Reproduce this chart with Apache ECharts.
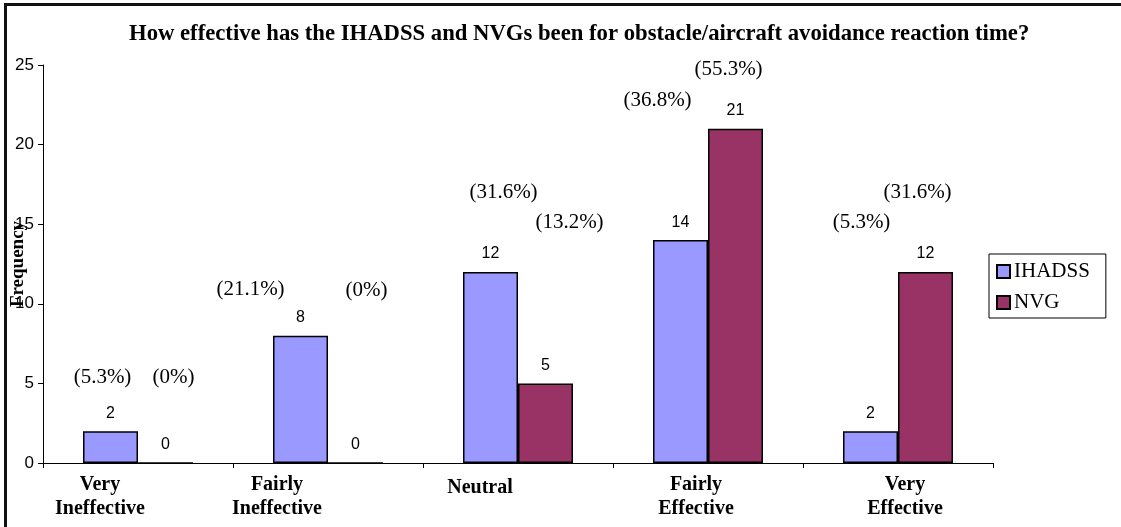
<!DOCTYPE html>
<html style="height: 100%">
    <head>
        <meta charset="utf-8">
        <script src="https://cdn.jsdelivr.net/npm/echarts@6/dist/echarts.min.js"></script>
    </head>
    <body style="height: 100%; margin: 0">
        <div id="main" style="position: absolute; left: 0; top: 0; width: 1121px; height: 527px"></div>
        <div style="position: absolute; left: 4px; top: 3px; width: 1117px; height: 524px; border-top: 3px solid #111; border-left: 3px solid #111; pointer-events: none"></div>
        <script type="text/javascript">
            var categories = ['Very\nIneffective', 'Fairly\nIneffective', 'Neutral', 'Fairly\nEffective', 'Very\nEffective'];
            var ihadss = [2, 8, 12, 14, 2];
            var nvg = [0, 0, 5, 21, 12];
            var ihadssPct = ['5.3%', '21.1%', '31.6%', '36.8%', '5.3%'];
            var nvgPct = ['0%', '0%', '13.2%', '55.3%', '31.6%'];

            // where the percentage labels sit, in px from the top of each bar
            var ihadssPctOffset = [[-8, -54], [-50, -46], [13, -79], [-23, -140], [-9, -209]];
            var nvgPctOffset = [[8, -86], [11, -173], [24, -161], [-7, -59], [-8, -79]];
            // the category labels are not centred under their ticks in the original
            var catLabelShift = [-38, -51, -38, -12, 7];
            var catLabelDrop = [0, 0, 3, 0, -1];

            function pctMarks(values, pcts, offsets) {
                var out = [];
                for (let i = 0; i < values.length; i++) {
                    out.push({
                        coord: [categories[i], values[i]],
                        label: { offset: offsets[i], formatter: '(' + pcts[i] + ')' }
                    });
                }
                return out;
            }

            var catData = categories.map(function (c, i) {
                var s = catLabelShift[i];
                return {
                    value: c,
                    textStyle: { padding: [Math.max(catLabelDrop[i], 0) + 1, s < 0 ? -2 * s : 0, 0, s > 0 ? 2 * s : 0] }
                };
            });

            var serif = '"Liberation Serif", "Times New Roman", serif';
            var sans = '"Liberation Sans", Arial, sans-serif';

            var markStyle = {
                symbol: 'circle',
                symbolSize: 1,
                itemStyle: { color: 'rgba(0,0,0,0)' },
                label: { show: true, position: 'inside', color: '#000', fontFamily: serif, fontSize: 21 }
            };

            var myChart = echarts.init(document.getElementById('main'));
            myChart.setOption({
                backgroundColor: '#fff',
                animation: false,
                title: {
                    text: 'How effective has the IHADSS and NVGs been for obstacle/aircraft avoidance reaction time?',
                    left: 124,
                    top: 18,
                    textStyle: { color: '#000', fontFamily: serif, fontWeight: 'bold', fontSize: 22.7 }
                },
                legend: {
                    orient: 'vertical',
                    left: 989,
                    top: 254,
                    padding: [7, 16, 5, 7],
                    itemGap: 10,
                    itemWidth: 13,
                    itemHeight: 13,
                    icon: 'rect',
                    borderColor: '#000',
                    borderWidth: 1,
                    textStyle: { color: '#000', fontFamily: serif, fontSize: 21, padding: [0, 0, 0, -1] },
                    data: ['IHADSS', 'NVG']
                },
                grid: { left: 43, right: 128, top: 65, bottom: 64, outerBoundsMode: 'none' },
                xAxis: {
                    type: 'category',
                    data: catData,
                    axisLine: { lineStyle: { color: '#000', width: 1 } },
                    axisTick: { show: true, alignWithLabel: false, length: 5, lineStyle: { color: '#000' } },
                    axisLabel: {
                        color: '#000', fontFamily: serif, fontWeight: 'bold', fontSize: 20,
                        lineHeight: 24, margin: 9, verticalAlign: 'top', interval: 0
                    }
                },
                yAxis: {
                    type: 'value',
                    min: 0,
                    max: 25,
                    interval: 5,
                    name: 'Frequency',
                    nameLocation: 'middle',
                    nameGap: 15,
                    nameRotate: 90,
                    nameMoveOverlap: false,
                    nameTextStyle: { color: '#000', fontFamily: serif, fontWeight: 'bold', fontSize: 19 },
                    axisLine: { show: true, lineStyle: { color: '#000', width: 1 } },
                    axisTick: { show: true, length: 5, lineStyle: { color: '#000' } },
                    axisLabel: { color: '#000', fontFamily: sans, fontSize: 17, margin: 9 },
                    splitLine: { show: false }
                },
                series: [
                    {
                        name: 'IHADSS',
                        type: 'bar',
                        data: ihadss,
                        barWidth: 55,
                        barGap: 0,
                        itemStyle: { color: '#9999FF', borderColor: '#000', borderWidth: 1.5 },
                        label: { show: true, position: 'top', distance: 10, color: '#000', fontFamily: sans, fontSize: 16 },
                        markPoint: Object.assign({ data: pctMarks(ihadss, ihadssPct, ihadssPctOffset) }, markStyle)
                    },
                    {
                        name: 'NVG',
                        type: 'bar',
                        data: nvg,
                        barWidth: 55,
                        barGap: 0,
                        itemStyle: { color: '#993366', borderColor: '#000', borderWidth: 1.5 },
                        label: { show: true, position: 'top', distance: 10, color: '#000', fontFamily: sans, fontSize: 16 },
                        markPoint: Object.assign({ data: pctMarks(nvg, nvgPct, nvgPctOffset) }, markStyle)
                    }
                ]
            });
        </script>
    </body>
</html>
